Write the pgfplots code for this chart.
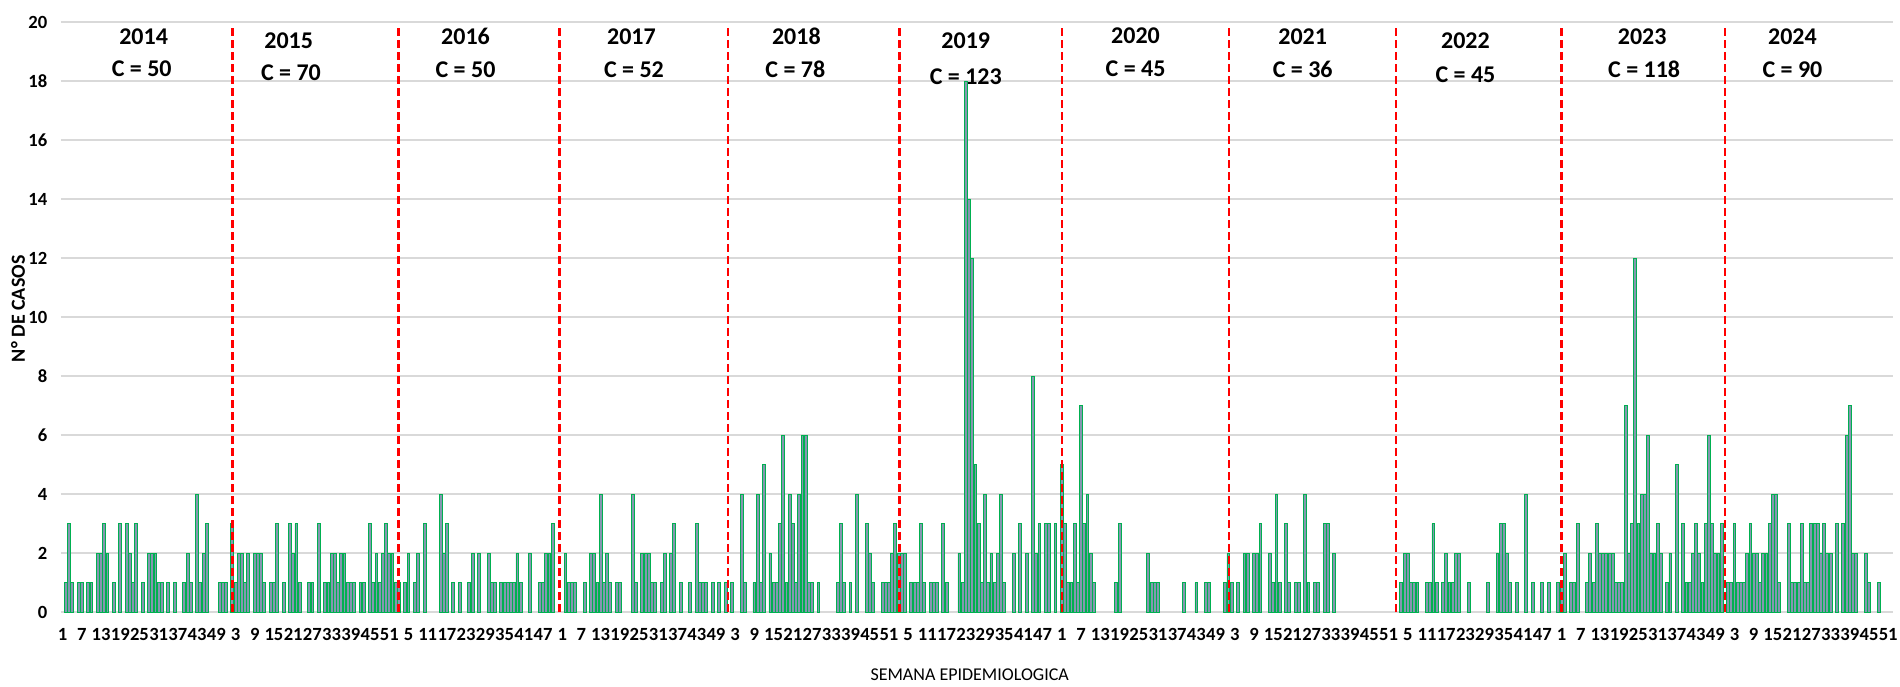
\documentclass[border=0pt]{standalone}
\usepackage{fontspec}
\setmainfont{Carlito}
\usepackage{pgfplots}
\usepackage{pgfplotstable}
\pgfplotsset{compat=1.18}
\definecolor{barfill}{RGB}{132,151,176}
\definecolor{baredge}{RGB}{0,176,80}
\definecolor{gridc}{RGB}{217,217,217}

% week, cases (weeks with zero cases omitted)
\pgfplotstableread{
w c
2 1
3 3
4 1
6 1
7 1
9 1
10 1
12 2
13 2
14 3
15 2
17 1
19 3
21 3
22 2
23 1
24 3
26 1
28 2
29 2
30 2
31 1
32 1
34 1
36 1
39 1
40 2
41 1
43 4
44 1
45 2
46 3
50 1
51 1
52 1
}\tA
\pgfplotstableread{
w c
2 3
3 1
4 2
5 2
6 1
7 2
9 2
10 2
11 2
12 1
14 1
15 1
16 3
18 1
20 3
21 2
22 3
23 1
26 1
27 1
29 3
31 1
32 1
33 2
34 2
35 1
36 2
37 2
38 1
39 1
40 1
42 1
43 1
45 3
46 1
47 2
48 1
49 2
50 3
51 2
52 2
}\tB
\pgfplotstableread{
w c
1 1
2 1
4 1
5 2
7 1
8 2
10 3
15 4
16 2
17 3
19 1
21 1
24 1
25 2
27 2
30 2
31 1
32 1
34 1
35 1
36 1
37 1
38 1
39 2
40 1
43 2
46 1
47 1
48 2
49 2
50 3
}\tC
\pgfplotstableread{
w c
2 2
3 1
4 1
5 1
8 1
10 2
11 2
12 1
13 4
14 1
15 2
16 1
18 1
19 1
23 4
24 1
26 2
27 2
28 2
29 1
30 1
32 1
33 2
35 2
36 3
38 1
41 1
43 3
44 1
45 1
46 1
48 1
50 1
52 1
}\tD
\pgfplotstableread{
w c
2 1
5 4
6 1
9 1
10 4
11 1
12 5
14 2
15 1
16 1
17 3
18 6
19 1
20 4
21 3
22 1
23 4
24 6
25 6
26 1
27 1
29 1
35 1
36 3
37 1
39 1
41 4
44 3
45 2
46 1
49 1
50 1
51 1
52 2
}\tE
\pgfplotstableread{
w c
1 3
2 2
3 2
4 2
6 1
7 1
8 1
9 3
10 1
12 1
13 1
14 1
16 3
17 1
21 2
22 1
23 18
24 14
25 12
26 5
27 3
28 1
29 4
30 1
31 2
32 1
33 2
34 4
35 1
38 2
40 3
42 2
44 8
45 2
46 3
48 3
49 3
51 3
}\tF
\pgfplotstableread{
w c
1 5
2 3
3 1
4 1
5 3
6 1
7 7
8 3
9 4
10 2
11 1
18 1
19 3
28 2
29 1
30 1
31 1
39 1
43 1
46 1
47 1
52 1
}\tG
\pgfplotstableread{
w c
1 2
2 1
4 1
6 2
7 2
9 2
10 2
11 3
14 2
15 1
16 4
17 1
19 3
20 1
22 1
23 1
25 4
26 1
28 1
29 1
31 3
32 3
34 2
}\tH
\pgfplotstableread{
w c
3 1
4 2
5 2
6 1
7 1
8 1
11 1
12 1
13 3
14 1
16 1
17 2
18 1
19 1
20 2
21 2
24 1
30 1
33 2
34 3
35 3
36 2
37 1
39 1
42 4
44 1
47 1
49 1
52 1
}\tI
\pgfplotstableread{
w c
1 1
2 2
4 1
5 1
6 3
9 1
10 2
11 1
12 3
13 2
14 2
15 2
16 2
17 2
18 1
19 1
20 1
21 7
22 2
23 3
24 12
25 3
26 4
27 4
28 6
29 2
30 2
31 3
32 2
34 1
35 2
37 5
39 3
40 1
41 1
42 2
43 3
44 2
45 1
46 3
47 6
48 3
49 2
50 2
51 3
}\tJ
\pgfplotstableread{
w c
1 1
2 1
3 3
4 1
5 1
6 1
7 2
8 3
9 2
10 2
11 1
12 2
13 2
14 3
15 4
16 4
17 1
20 3
21 1
22 1
23 1
24 3
25 1
26 1
27 3
28 3
29 3
30 2
31 3
32 2
33 2
35 3
37 3
38 6
39 7
40 2
41 2
44 2
45 1
48 1
}\tK

\begin{document}
\begin{tikzpicture}
\useasboundingbox (-30.5pt,-37pt) rectangle (919.5pt,306pt);
\begin{axis}[
  at={(0,0)}, anchor=south west,
  scale only axis, width=916pt, height=295pt,
  xmin=-0.5, xmax=571.5, ymin=0, ymax=20,
  ytick={0,2,...,20},
  xtick={0,6,...,570},
  xticklabels={1,7,13,19,25,31,37,43,49,3,9,15,21,27,33,39,45,51,5,11,17,23,29,35,41,47,
               1,7,13,19,25,31,37,43,49,3,9,15,21,27,33,39,45,51,5,11,17,23,29,35,41,47,
               1,7,13,19,25,31,37,43,49,3,9,15,21,27,33,39,45,51,5,11,17,23,29,35,41,47,
               1,7,13,19,25,31,37,43,49,3,9,15,21,27,33,39,45,51},
  axis line style={draw=none},
  major tick length=0pt,
  ymajorgrids,
  grid style={gridc, line width=0.8pt},
  /pgf/number format/assume math mode=true,
  tick label style={font=\bfseries\fontsize{9.3}{11}\selectfont, text=black},
  yticklabel style={xshift=-3.3pt},
  xticklabel style={yshift=-4.8pt, inner sep=3.17pt},
  xlabel={SEMANA EPIDEMIOLOGICA},
  xlabel style={at={(axis description cs:0.496,-0.1068)}, anchor=center, font=\fontsize{9}{11}\selectfont},
  ylabel={N° DE CASOS},
  ylabel style={at={(axis description cs:-0.02347,0.514)}, anchor=center, font=\bfseries\fontsize{10}{12}\selectfont},
  clip=false,
  bars/.style={ybar, bar width=0.9, fill=barfill, draw=baredge, line width=0.45pt},
  sep/.style={red, line width=1.25pt, dash pattern=on 4pt off 2pt, no markers},
]
\addplot[bars] table[x expr=\thisrow{w}-1,   y=c] {\tA};
\addplot[bars] table[x expr=\thisrow{w}+51,  y=c] {\tB};
\addplot[bars] table[x expr=\thisrow{w}+103, y=c] {\tC};
\addplot[bars] table[x expr=\thisrow{w}+155, y=c] {\tD};
\addplot[bars] table[x expr=\thisrow{w}+207, y=c] {\tE};
\addplot[bars] table[x expr=\thisrow{w}+259, y=c] {\tF};
\addplot[bars] table[x expr=\thisrow{w}+311, y=c] {\tG};
\addplot[bars] table[x expr=\thisrow{w}+363, y=c] {\tH};
\addplot[bars] table[x expr=\thisrow{w}+415, y=c] {\tI};
\addplot[bars] table[x expr=\thisrow{w}+467, y=c] {\tJ};
\addplot[bars] table[x expr=\thisrow{w}+519, y=c] {\tK};

\addplot[sep] coordinates {(53.12,0) (53.12,19.8)};
\addplot[sep] coordinates {(104.84,0) (104.84,19.8)};
\addplot[sep] coordinates {(155.12,0) (155.12,19.8)};
\addplot[sep] coordinates {(207.81,0) (207.81,19.8)};
\addplot[sep] coordinates {(261.3,0) (261.3,19.8)};
\addplot[sep] coordinates {(312.1,0) (312.1,19.8)};
\addplot[sep] coordinates {(364.2,0) (364.2,19.8)};
\addplot[sep] coordinates {(416.3,0) (416.3,19.8)};
\addplot[sep] coordinates {(468.0,0) (468.0,19.8)};
\addplot[sep] coordinates {(519.0,0) (519.0,19.8)};

\begin{scope}[every node/.style={font=\bfseries\fontsize{12}{14}\selectfont, text=black, inner sep=0pt}]
\node at (axis cs:25.3,19.5) {2014};   \node at (axis cs:24.7,18.4) {C = 50};
\node at (axis cs:70.6,19.38) {2015};  \node at (axis cs:71.3,18.27) {C = 70};
\node at (axis cs:125.8,19.5) {2016};  \node at (axis cs:125.8,18.38) {C = 50};
\node at (axis cs:177.6,19.5) {2017};  \node at (axis cs:178.4,18.38) {C = 52};
\node at (axis cs:229.1,19.5) {2018};  \node at (axis cs:228.8,18.38) {C = 78};
\node at (axis cs:282.0,19.35) {2019}; \node at (axis cs:282.0,18.16) {C = 123};
\node at (axis cs:335.0,19.55) {2020}; \node at (axis cs:335.0,18.43) {C = 45};
\node at (axis cs:387.2,19.5) {2021};  \node at (axis cs:387.2,18.38) {C = 36};
\node at (axis cs:438.0,19.35) {2022}; \node at (axis cs:438.0,18.2) {C = 45};
\node at (axis cs:493.2,19.5) {2023};  \node at (axis cs:493.8,18.38) {C = 118};
\node at (axis cs:540.1,19.5) {2024};  \node at (axis cs:540.1,18.38) {C = 90};
\end{scope}
\end{axis}
\end{tikzpicture}
\end{document}
